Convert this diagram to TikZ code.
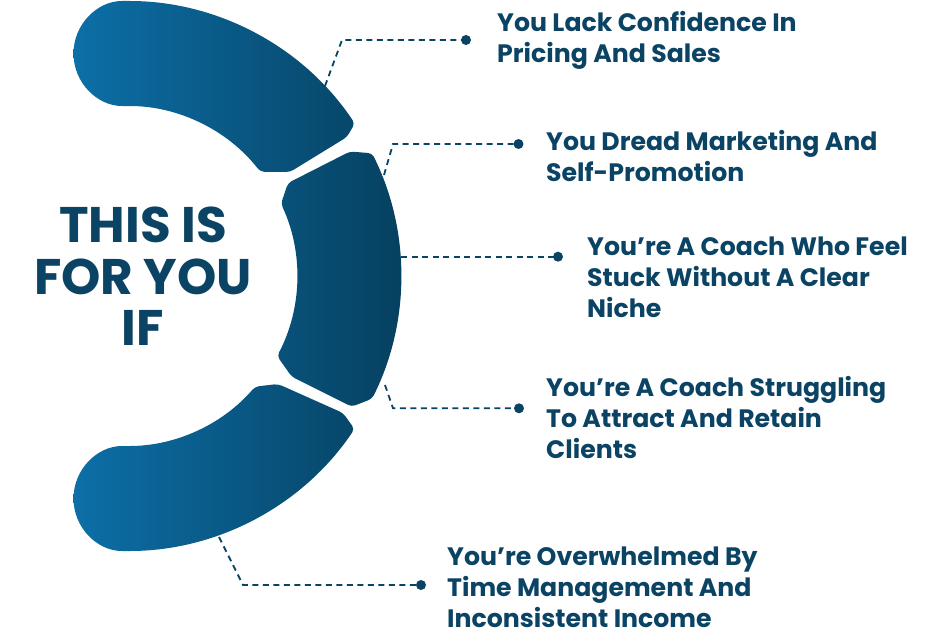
\documentclass[tikz,border=0pt]{standalone}
\usepackage{fontspec}
\setmainfont{Poppins}
\usetikzlibrary{calc}
\definecolor{navy}{HTML}{0A4364}
\definecolor{segL}{HTML}{0C6FA7}
\definecolor{segR}{HTML}{063F5E}
\tikzset{
  segshade/.style={left color=segL, right color=segR, rounded corners=4pt},
  leader/.style={draw=navy, line width=1.8pt, dash pattern=on 6pt off 4.5pt},
  dotnode/.style={circle, fill=navy, inner sep=0pt, minimum size=10pt},
  label/.style={anchor=north west, inner sep=0pt, align=left, text=navy,
    font=\fontsize{25.2}{31}\selectfont\bfseries},
  title/.style={anchor=north, inner sep=0pt, align=center, text=navy,
    font=\fontsize{50}{51.5}\selectfont\bfseries}
}
\newcommand{\lstrut}{\rule{0pt}{24pt}}
\newcommand{\tstrut}{\rule{0pt}{45pt}}
\begin{document}
\begin{tikzpicture}[x=1pt,y=1pt]
\useasboundingbox (0,0) rectangle (928,-634);
\coordinate (C) at (126,-276);
% arc segments
\shade[segshade]
  (290,-172) -- ($(C)+(37.8:170)$)
    arc[start angle=37.8,end angle=90,radius=170]
    arc[start angle=270,end angle=90,radius=52.5]
    arc[start angle=90,end angle=33.7,radius=275]
    -- (347,-137) -- cycle
  (288,-183) -- (350,-151.5) -- ($(C)+(26.5:275)$)
    arc[start angle=26.5,end angle=-26.5,radius=275]
    -- (351.7,-406.7) -- (291.7,-376.7) -- ($(C)+(-27.9:171)$)
    arc[start angle=-27.9,end angle=25,radius=171] -- cycle
  (278,-384) -- (343,-413) -- ($(C)+(-33.8:275)$)
    arc[start angle=-33.8,end angle=-90,radius=275]
    arc[start angle=270,end angle=90,radius=52.5]
    arc[start angle=-90,end angle=-40.6,radius=170] -- cycle;

% title
\node[title] (t) at (143,-197.3) {\tstrut THIS IS\\FOR YOU\\IF};

% leaders
\node[dotnode] (d1) at (466,-40) {};
\coordinate (b1) at (342,-40);
\coordinate (e1) at (325,-86);
\draw[leader] (e1) -- (b1) -- (d1.center);

\node[dotnode] (d2) at (518.5,-144) {};
\coordinate (b2) at (393,-144);
\coordinate (e2) at (384,-175);
\draw[leader] (e2) -- (b2) -- (d2.center);

\node[dotnode] (d3) at (558,-256.7) {};
\coordinate (e3) at (401,-256.7);
\draw[leader] (e3) -- (d3.center);

\node[dotnode] (d4) at (519,-408.3) {};
\coordinate (b4) at (393,-408.3);
\coordinate (e4) at (385,-385);
\draw[leader] (e4) -- (b4) -- (d4.center);

\node[dotnode] (d5) at (421,-585) {};
\coordinate (b5) at (243,-585);
\coordinate (e5) at (219,-537);
\draw[leader] (e5) -- (b5) -- (d5.center);

% labels
\node[label] (l1) at (497,-7) {\lstrut You Lack Confidence In\\Pricing And Sales};
\node[label] (l2) at (546,-126) {\lstrut You Dread Marketing And\\Self-Promotion};
\node[label] (l3) at (587,-231.5) {\lstrut You’re A Coach Who Feel\\Stuck Without A Clear\\Niche};
\node[label] (l4) at (546,-372) {\lstrut You’re A Coach Struggling\\To Attract And Retain\\Clients};
\node[label] (l5) at (447,-541) {\lstrut You’re Overwhelmed By\\Time Management And\\Inconsistent Income};
\end{tikzpicture}
\end{document}
